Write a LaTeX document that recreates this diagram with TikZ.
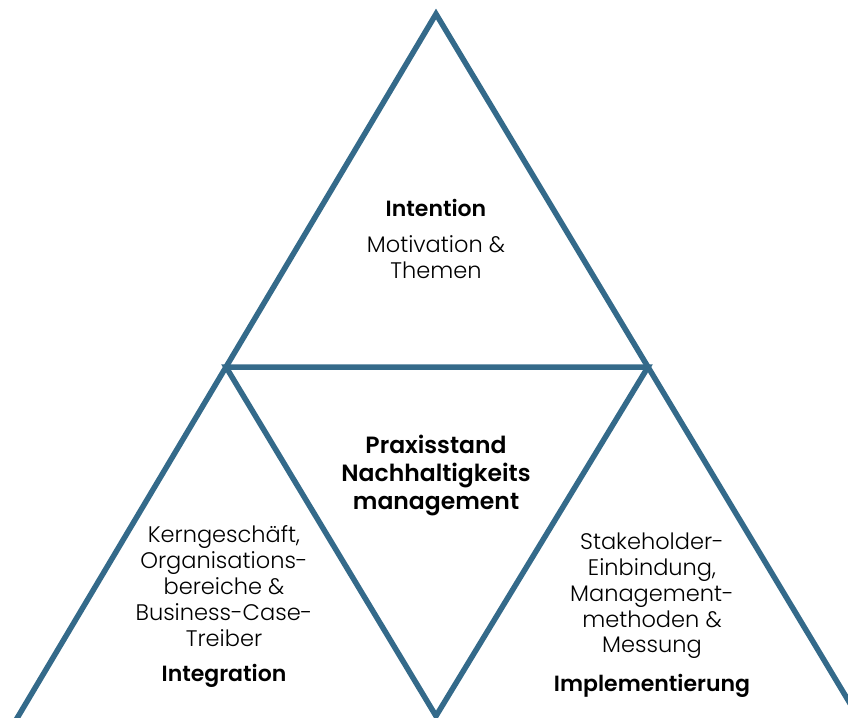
\documentclass[tikz,border=0pt]{standalone}
\usepackage{fontspec}
\setmainfont{Poppins}[UprightFont=* Light,BoldFont=* SemiBold]
\usetikzlibrary{calc}
\begin{document}
\begin{tikzpicture}[x=1pt,y=-1pt]
            % Define colors
            \definecolor{edgeblue}{RGB}{52,106,138}
            \tikzset{
                edge/.style={draw=edgeblue,line width=5.5pt,line join=miter},
                head/.style={font=\fontsize{22}{26}\selectfont\bfseries,align=center},
                body/.style={font=\fontsize{22.5}{25.8}\selectfont,align=center}
            }

            % Page and clipping
            \useasboundingbox (0,0) rectangle (848,717);
            \clip (0,0) rectangle (848,717);

            % Corner points of the triangles
            \coordinate (apex) at (436,14);
            \coordinate (midL) at (226,367);
            \coordinate (midR) at (648,367);
            \coordinate (low) at (436,716);
            \coordinate (footL) at ($(apex)!2.2!(midL)$);
            \coordinate (footR) at ($(apex)!2.2!(midR)$);

            % Draw the outer triangle sides
            \draw[edge] (footL) -- (apex) -- (footR);

            % Draw the inner triangle
            \draw[edge] (midL) -- (midR) -- (low) -- cycle;

            % Top part
            \node[head] (intention) at (436,208) {Intention};
            \node[body] (motivation) at (436,257) {Motivation \&\\Themen};

            % Centre part
            \node[head,font=\fontsize{23.5}{28}\selectfont\bfseries] (praxis) at (436,475) {Praxisstand\\Nachhaltigkeits\\management};

            % Left part
            \node[body] (kern) at (224,586) {Kerngeschäft,\\Organisations-\\bereiche \&\\Business-Case-\\Treiber};
            \node[head] (integration) at (224,676) {Integration};

            % Right part
            \node[body] (stake) at (652,596) {Stakeholder-\\Einbindung,\\Management-\\methoden \&\\Messung};
            \node[head] (implement) at (652,686) {Implementierung};
        \end{tikzpicture}
\end{document}
